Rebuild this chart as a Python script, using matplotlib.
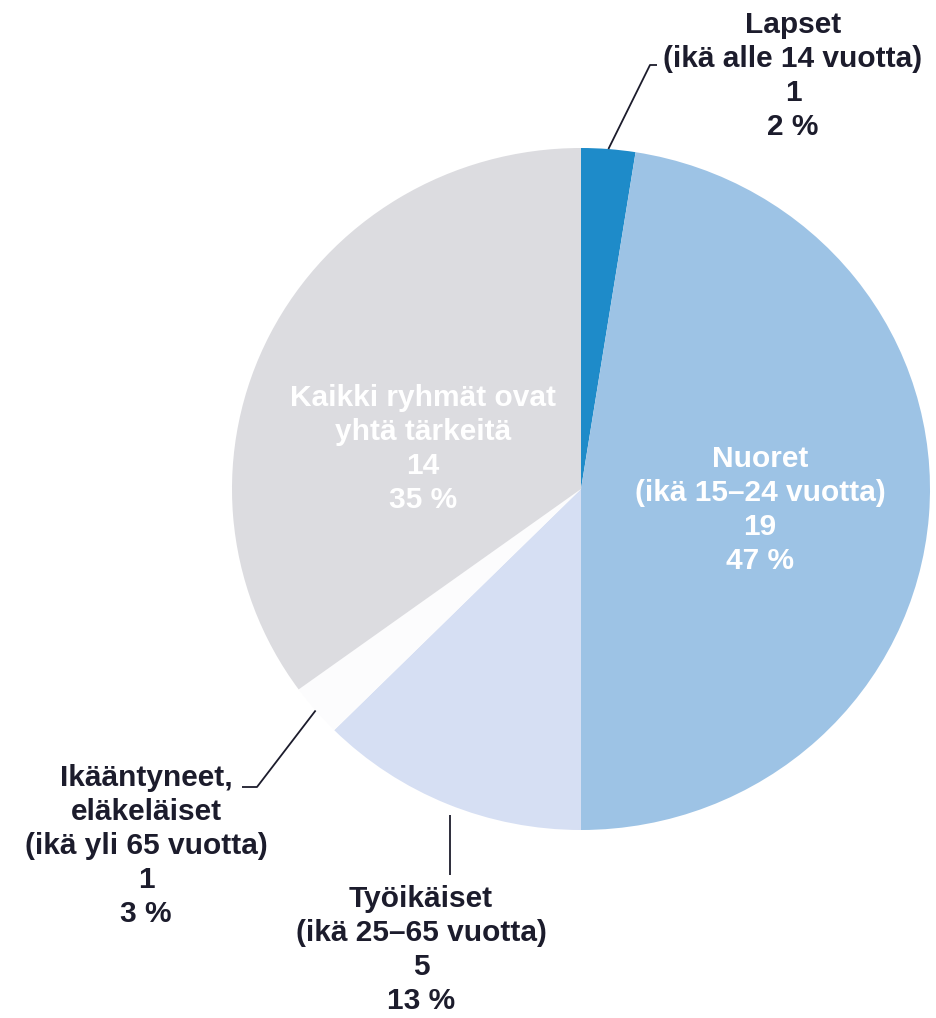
#!/usr/bin/env python3
"""Pie chart: which age group matters most (Finnish survey)."""

import numpy as np
import matplotlib
matplotlib.use("Agg")
import matplotlib.pyplot as plt

plt.rcParams["font.family"] = ["Liberation Sans", "DejaVu Sans"]

# data, clockwise from 12 o'clock
groups = [
    "Lapset\n(ikä alle 14 vuotta)",
    "Nuoret\n(ikä 15–24 vuotta)",
    "Työikäiset\n(ikä 25–65 vuotta)",
    "Ikääntyneet,\neläkeläiset\n(ikä yli 65 vuotta)",
    "Kaikki ryhmät ovat\nyhtä tärkeitä",
]
counts = [1, 19, 5, 1, 14]
pct_labels = ["2 %", "47 %", "13 %", "3 %", "35 %"]
colors = ["#1E8BC9", "#9DC3E5", "#D6DFF3", "#FCFCFD", "#DCDCE0"]

W, H = 937, 1018
CX, CY, RX, RY = 581, 489, 349, 341  # pie centre / radii in pixels


def px(x, y):
    """pixel position -> data coords (pie is the unit circle)"""
    return (x - CX) / RX, (CY - y) / RY


fig = plt.figure(figsize=(W / 100, H / 100), dpi=100)
fig.patch.set_facecolor("white")
ax = fig.add_axes([0, 0, 1, 1])

wedges, _ = ax.pie(counts, colors=colors, startangle=90, counterclock=False,
                   radius=1, wedgeprops=dict(linewidth=0))
ax.set_aspect("auto")
ax.set_xlim(px(0, 0)[0], px(W, 0)[0])
ax.set_ylim(px(0, H)[1], px(0, 0)[1])
ax.axis("off")

labels = [f"{g}\n{c}\n{p}" for g, c, p in zip(groups, counts, pct_labels)]

# label anchors (pixel) and text colours
text_pos = [(793, 76), (760, 510), (421, 950), (146, 846), (423, 449)]
text_col = ["#1C1C2C", "white", "#1C1C2C", "#1C1C2C", "white"]
for lab, (x, y), col in zip(labels, text_pos, text_col):
    ax.text(*px(x, y), lab, ha="center", va="center", fontsize=21.5,
            fontweight="bold", color=col, linespacing=1.27)

# leader lines for the small / outside slices
leaders = {0: [(650, 65), (657, 65)], 3: [(257, 787), (242, 787)], 2: [(450, 875)]}
for i, pts in leaders.items():
    w = wedges[i]
    mid = np.deg2rad((w.theta1 + w.theta2) / 2)
    sx, sy = np.cos(mid), np.sin(mid)
    if i == 2:
        sx = px(450, 0)[0]
        sy = -np.sqrt(1 - sx ** 2) - 0.03
    xs = [sx] + [px(*p)[0] for p in pts]
    ys = [sy] + [px(*p)[1] for p in pts]
    ax.plot(xs, ys, color="#1C1C2C", lw=1.3, solid_capstyle="butt")

fig.savefig("out.png", dpi=100)
